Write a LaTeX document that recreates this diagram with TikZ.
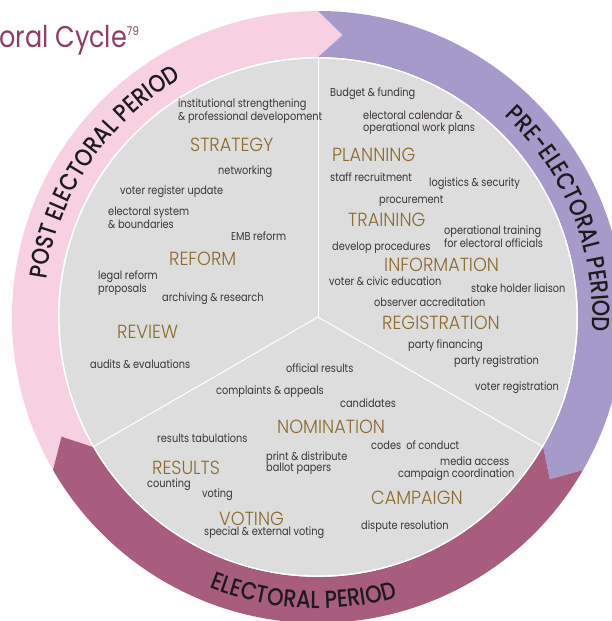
\documentclass[tikz,border=0pt]{standalone}
\usepackage{fontspec}
\usetikzlibrary{decorations.text}
\IfFontExistsTF{Poppins Light}{\newfontfamily\futl[FakeStretch=0.93]{Poppins Light}}{\newfontfamily\futl[FakeStretch=0.93]{Poppins}}
\IfFontExistsTF{Poppins Medium}{\newfontfamily\futm[FakeStretch=0.85]{Poppins Medium}}{\newfontfamily\futm[FakeStretch=0.85]{Poppins}}
\newfontfamily\fut[FakeStretch=0.85]{Poppins}
\definecolor{pinkR}{HTML}{F7D1E2}
\definecolor{purpR}{HTML}{A69ACB}
\definecolor{magR}{HTML}{A85D7F}
\definecolor{discG}{HTML}{DCDDDC}
\definecolor{headC}{HTML}{8B6A2E}
\definecolor{txtC}{HTML}{3B3535}
\definecolor{titleC}{HTML}{8E3D65}
\definecolor{ringC}{HTML}{1C1A1B}
\newcommand{\ringfont}{\futm\fontsize{24.6}{24.6}\selectfont}
\tikzset{
  lbl/.style={font=\fut\fontsize{11.5}{11.5}\selectfont, text=txtC, inner sep=0pt, anchor=west, align=left},
  hd/.style={font=\futl\fontsize{19}{19}\selectfont, text=headC, inner sep=0pt, anchor=west},
  divider/.style={draw=white, line width=1pt},
  ringlabel/.style={decorate, decoration={text along path, text align=center, text color=ringC, text={|\ringfont|#1}}}
}
\begin{document}
\begin{tikzpicture}[x=1pt,y=1pt]
\useasboundingbox (0,0) rectangle (611,-621);
\begin{scope}[shift={(318,-317)}]
  % ring arrows
  \fill[pinkR] (210:306pt) arc[start angle=210,end angle=90,radius=306pt] -- (85:283pt) -- (90:260pt) arc[start angle=90,end angle=210,radius=260pt] -- (205:283pt) -- cycle;
  \fill[purpR] (90:306pt) arc[start angle=90,end angle=-30,radius=306pt] -- (-35:283pt) -- (-30:260pt) arc[start angle=-30,end angle=90,radius=260pt] -- (85:283pt) -- cycle;
  \fill[magR] (-30:306pt) arc[start angle=-30,end angle=-150,radius=306pt] -- (-155:283pt) -- (-150:260pt) arc[start angle=-150,end angle=-30,radius=260pt] -- (-35:283pt) -- cycle;
  % disc
  \coordinate (O) at (0,0);
  \coordinate (d90) at (90:259pt);
  \coordinate (d210) at (210:259pt);
  \coordinate (d330) at (330:259pt);
  \fill[discG, draw=white, line width=1.2pt] (O) circle[radius=259pt];
  \draw[divider] (O) -- (d90);
  \draw[divider] (O) -- (d210);
  \draw[divider] (O) -- (d330);
  % ring labels
  \path[ringlabel={POST ELECTORAL PERIOD}] (201:274.5pt) arc[start angle=201,end angle=91,radius=274.5pt];
  \path[ringlabel={PRE-ELECTORAL PERIOD}] (77:274.5pt) arc[start angle=77,end angle=-33,radius=274.5pt];
  \path[ringlabel={ELECTORAL PERIOD}] (212:291.5pt) arc[start angle=212,end angle=322,radius=291.5pt];
\end{scope}
% title
\node[anchor=base west, inner sep=0pt, text=titleC, font=\fut\fontsize{30}{30}\selectfont] (title) at (-1,-47) {oral Cycle\raisebox{12pt}{\fontsize{12}{12}\selectfont 79}};
% post-electoral
\node[lbl] (l1) at (178,-111.5) {institutional strengthening\\\& professional developoment};
\node[hd] (h1) at (190,-145) {STRATEGY};
\node[lbl] (l2) at (218,-172) {networking};
\node[lbl] (l3) at (120,-192) {voter register update};
\node[lbl] (l4) at (108,-217.5) {electoral system\\\& boundaries};
\node[lbl] (l5) at (231,-236) {EMB reform};
\node[hd] (h2) at (169,-259) {REFORM};
\node[lbl] (l6) at (98,-283) {legal reform\\proposals};
\node[lbl] (l7) at (162,-299) {archiving \& research};
\node[hd] (h3) at (117,-332) {REVIEW};
\node[lbl] (l8) at (90,-364) {audits \& evaluations};
% pre-electoral
\node[lbl] (r1) at (330,-94) {Budget \& funding};
\node[lbl] (r2) at (363,-122.5) {electoral calendar \&\\operational work plans};
\node[hd] (h4) at (332,-155) {PLANNING};
\node[lbl] (r3) at (330,-177) {staff recruitment};
\node[lbl] (r4) at (429,-184) {logistics \& security};
\node[lbl] (r5) at (379,-201) {procurement};
\node[hd] (h5) at (348,-220) {TRAINING};
\node[lbl] (r6) at (444,-236.5) {operational training\\for electoral officials};
\node[lbl] (r7) at (332,-248) {develop procedures};
\node[hd] (h6) at (384,-265) {INFORMATION};
\node[lbl] (r8) at (329,-281) {voter \& civic education};
\node[lbl] (r9) at (471,-288) {stake holder liaison};
\node[lbl] (r10) at (374,-302) {observer accreditation};
\node[hd] (h7) at (382,-323) {REGISTRATION};
\node[lbl] (r11) at (408,-346) {party financing};
\node[lbl] (r12) at (454,-362) {party registration};
\node[lbl] (r13) at (475,-388) {voter registration};
% electoral
\node[lbl] (b1) at (286,-368) {official results};
\node[lbl] (b2) at (216,-392) {complaints \& appeals};
\node[lbl] (b3) at (340,-403) {candidates};
\node[hd] (h8) at (277,-427) {NOMINATION};
\node[lbl] (b4) at (157,-438) {results tabulations};
\node[lbl] (b5) at (371,-445) {codes\ \ of conduct};
\node[lbl] (b6) at (266,-463) {print \& distribute\\ballot papers};
\node[lbl] (b7) at (440,-461) {media access};
\node[hd] (h9) at (152,-468) {RESULTS};
\node[lbl] (b8) at (398,-475) {campaign coordination};
\node[lbl] (b9) at (147,-485) {counting};
\node[lbl] (b10) at (202,-495) {voting};
\node[hd] (h10) at (371,-498) {CAMPAIGN};
\node[hd] (h11) at (219,-519) {VOTING};
\node[lbl] (b11) at (204,-533) {special \& external voting};
\node[lbl] (b12) at (361,-527) {dispute resolution};
\end{tikzpicture}
\end{document}
